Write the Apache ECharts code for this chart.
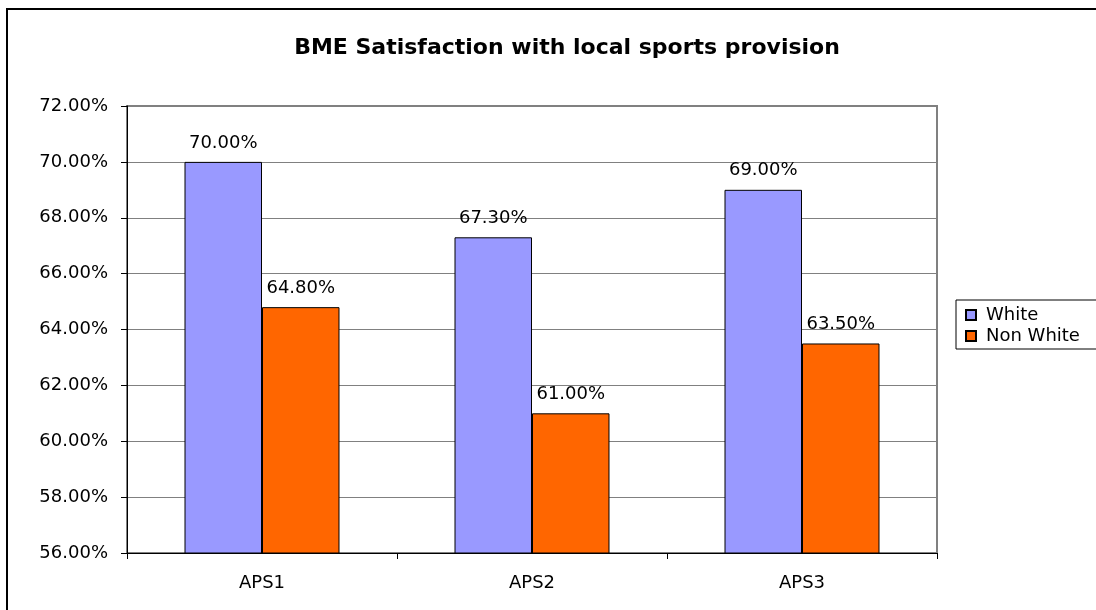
<!DOCTYPE html>
<html>
<head>
<meta charset="utf-8">
<script src="https://cdn.jsdelivr.net/npm/echarts@6/dist/echarts.min.js"></script>
<style>html,body{margin:0;padding:0;background:#fff;}#c{width:1096px;height:610px;}</style>
</head>
<body>
<div id="c"></div>
<script>
var categories = ['APS1', 'APS2', 'APS3'];
var whiteValues = [70.0, 67.3, 69.0];
var nonWhiteValues = [64.8, 61.0, 63.5];
var seriesNames = ['White', 'Non White'];
var yMin = 56, yMax = 72, yInterval = 2;

var chart = echarts.init(document.getElementById('c'), null, {renderer: 'canvas'});
var font = '"DejaVu Sans", Arial, sans-serif';
function pct(v) { return v.toFixed(2) + '%'; }
var labelCfg = {
  show: true, position: 'top', distance: 10,
  color: '#000', fontFamily: font, fontSize: 18,
  formatter: function (p) { return pct(p.value); }
};
chart.setOption({
  animation: false,
  backgroundColor: '#fff',
  title: {
    text: 'BME Satisfaction with local sports provision',
    left: 562, top: 32, textAlign: 'center',
    textStyle: {fontFamily: font, fontSize: 22, fontWeight: 'bold', color: '#000'}
  },
  graphic: [{
    type: 'rect', shape: {x: 7, y: 9, width: 1100, height: 620},
    style: {fill: null, stroke: '#000', lineWidth: 2}, silent: true
  }],
  legend: {
    orient: 'vertical', left: 956, top: 300,
    data: seriesNames,
    icon: 'rect', itemWidth: 10, itemHeight: 10, itemGap: 3,
    padding: [6, 30, 4, 9],
    borderColor: '#000', borderWidth: 1,
    textStyle: {fontFamily: font, fontSize: 18, color: '#000', padding: [0, 0, 0, 5]}
  },
  grid: {
    left: 127, top: 106, right: 159, bottom: 57,
    show: true, borderColor: '#808080', borderWidth: 2, backgroundColor: '#fff'
  },
  xAxis: {
    type: 'category', data: categories,
    axisLine: {lineStyle: {color: '#000', width: 1}},
    axisTick: {show: true, length: 6, lineStyle: {color: '#000'}},
    axisLabel: {fontFamily: font, fontSize: 18, color: '#000', margin: 21}
  },
  yAxis: {
    type: 'value', min: yMin, max: yMax, interval: yInterval,
    axisLine: {show: true, lineStyle: {color: '#000', width: 1}},
    axisTick: {show: true, length: 6, lineStyle: {color: '#000'}},
    axisLabel: {fontFamily: font, fontSize: 18, color: '#000', margin: 19, formatter: function (v) { return pct(v); }},
    splitLine: {lineStyle: {color: '#808080', width: 1}}
  },
  series: [{
    name: seriesNames[0], type: 'bar', data: whiteValues,
    barGap: '0%', barCategoryGap: '42.6%',
    itemStyle: {color: '#9999ff', borderColor: '#000', borderWidth: 1},
    label: labelCfg
  }, {
    name: seriesNames[1], type: 'bar', data: nonWhiteValues,
    barGap: '0%', barCategoryGap: '42.6%',
    itemStyle: {color: '#ff6600', borderColor: '#000', borderWidth: 1},
    label: labelCfg
  }]
});
</script>
</body>
</html>
